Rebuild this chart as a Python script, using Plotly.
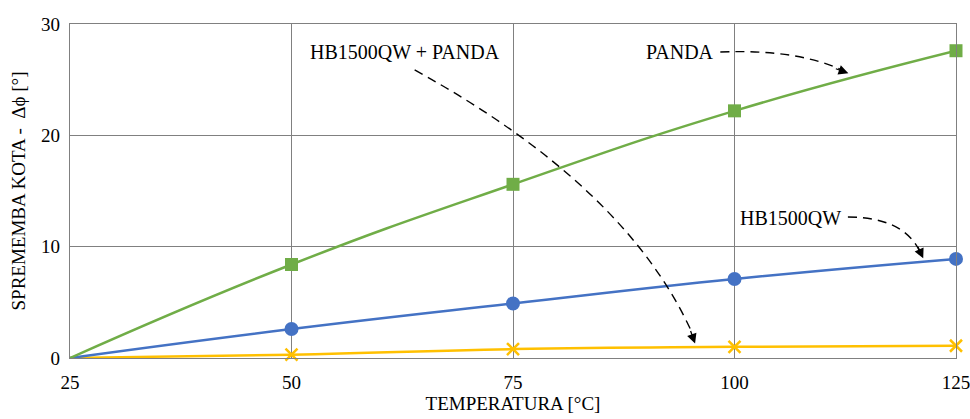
import plotly.graph_objects as go

temps = [25, 50, 75, 100, 125]
panda = [0, 8.4, 15.6, 22.2, 27.6]
hb1500qw = [0, 2.6, 4.9, 7.1, 8.9]
hb_panda = [0, 0.3, 0.8, 1.0, 1.1]

x_ticks = [25, 50, 75, 100, 125]
y_ticks = [0, 10, 20, 30]

FONT = "Liberation Serif, Times New Roman, serif"
GRID = "#808080"

fig = go.Figure()

def add_series(y, color, symbol, size, mline=0):
    sizes = [0] + [size] * (len(y) - 1)
    fig.add_trace(go.Scatter(
        x=temps, y=y, mode="lines+markers",
        line=dict(color=color, width=2.5, shape="spline", smoothing=1.3),
        marker=dict(color=color, symbol=symbol, size=sizes, opacity=1,
                    line=dict(color=color, width=mline)),
        showlegend=False, cliponaxis=False,
    ))

add_series(hb_panda, "#FFC000", "x-thin", 12, mline=2.5)
add_series(hb1500qw, "#4472C4", "circle", 14)
add_series(panda, "#70AD47", "square", 13)

# dashed curved leader lines (quadratic bezier in data coordinates)
curves = [
    ((63.9, 25.87), (87.87, 15.40), (95.3, 2.1)),
    ((98.4, 27.49), (107.2, 27.75), (112.3, 25.8)),
    ((112.8, 12.66), (119.0, 12.66), (120.9, 9.6)),
]
for (x0, y0), (cx, cy), (x1, y1) in curves:
    fig.add_shape(type="path", xref="x", yref="y",
                  path=f"M {x0},{y0} Q {cx},{cy} {x1},{y1}",
                  line=dict(color="black", width=1.4, dash="9px,6px"))

# arrow heads
heads = [((95.55, 1.3), -5, -14), ((112.85, 25.58), -14, -5), ((121.3, 8.95), -6, -13)]
for (hx, hy), ax, ay in heads:
    fig.add_annotation(x=hx, y=hy, xref="x", yref="y", text="", showarrow=True,
                       ax=ax, ay=ay, arrowhead=2, arrowsize=1.5, arrowwidth=1.3,
                       arrowcolor="black", standoff=0)

labels = [("HB1500QW + PANDA", 62.8, 27.49), ("PANDA", 93.85, 27.49), ("HB1500QW", 106.27, 12.57)]
for txt, lx, ly in labels:
    fig.add_annotation(x=lx, y=ly, xref="x", yref="y", text=txt, showarrow=False,
                       font=dict(family=FONT, size=20, color="black"),
                       bgcolor="white", borderpad=1)

fig.update_layout(
    width=970, height=419,
    margin=dict(l=70, r=14, t=24, b=61, autoexpand=False),
    paper_bgcolor="white", plot_bgcolor="white",
    font=dict(family=FONT, size=19, color="black"),
)
fig.update_xaxes(
    range=[25, 125], tickvals=x_ticks, ticktext=[str(v) for v in x_ticks],
    showgrid=True, gridcolor=GRID, gridwidth=1.3,
    showline=True, linecolor=GRID, linewidth=1.3, mirror=True,
    zeroline=False, ticks="", ticklen=0, automargin=False,
    ticklabelstandoff=7, ticklabeloverflow="allow",
    title=dict(text="TEMPERATURA [°C]", font=dict(size=19), standoff=2),
    tickfont=dict(size=19),
)
fig.update_yaxes(
    range=[0, 30], tickvals=y_ticks,
    showgrid=True, gridcolor=GRID, gridwidth=1.3,
    showline=True, linecolor=GRID, linewidth=1.3, mirror=True,
    zeroline=False, ticks="", ticklen=0, automargin=False,
    ticklabelstandoff=5, ticklabeloverflow="allow",
    title=dict(text="SPREMEMBA KOTA -  Δϕ [°]", font=dict(size=19), standoff=10),
    tickfont=dict(size=19),
)

fig.write_html("out.html")
